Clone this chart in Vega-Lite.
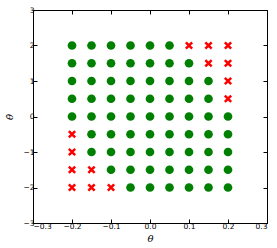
{
  "$schema": "https://vega.github.io/schema/vega-lite/v6.json",
  "width": 234,
  "height": 213,
  "autosize": "none",
  "padding": {"left": 33, "top": 10, "right": 10, "bottom": 25},
  "config": {
    "view": {"stroke": "#000", "strokeWidth": 1},
    "axis": {"grid": false, "domain": false, "tickColor": "#000", "tickSize": -4, "labelFont": "DejaVu Sans", "labelFontSize": 7.5, "labelColor": "#000", "titleFont": "DejaVu Serif", "titleFontSize": 10, "titleFontWeight": "normal", "titleColor": "#000"}
  },
  "data": {"values": [
    {"x": -0.2, "y": 2, "s": "ok"}, {"x": -0.15, "y": 2, "s": "ok"}, {"x": -0.1, "y": 2, "s": "ok"}, {"x": -0.05, "y": 2, "s": "ok"}, {"x": 0, "y": 2, "s": "ok"}, {"x": 0.05, "y": 2, "s": "ok"}, {"x": 0.1, "y": 2, "s": "fail"}, {"x": 0.15, "y": 2, "s": "fail"}, {"x": 0.2, "y": 2, "s": "fail"},
    {"x": -0.2, "y": 1.5, "s": "ok"}, {"x": -0.15, "y": 1.5, "s": "ok"}, {"x": -0.1, "y": 1.5, "s": "ok"}, {"x": -0.05, "y": 1.5, "s": "ok"}, {"x": 0, "y": 1.5, "s": "ok"}, {"x": 0.05, "y": 1.5, "s": "ok"}, {"x": 0.1, "y": 1.5, "s": "ok"}, {"x": 0.15, "y": 1.5, "s": "fail"}, {"x": 0.2, "y": 1.5, "s": "fail"},
    {"x": -0.2, "y": 1, "s": "ok"}, {"x": -0.15, "y": 1, "s": "ok"}, {"x": -0.1, "y": 1, "s": "ok"}, {"x": -0.05, "y": 1, "s": "ok"}, {"x": 0, "y": 1, "s": "ok"}, {"x": 0.05, "y": 1, "s": "ok"}, {"x": 0.1, "y": 1, "s": "ok"}, {"x": 0.15, "y": 1, "s": "ok"}, {"x": 0.2, "y": 1, "s": "fail"},
    {"x": -0.2, "y": 0.5, "s": "ok"}, {"x": -0.15, "y": 0.5, "s": "ok"}, {"x": -0.1, "y": 0.5, "s": "ok"}, {"x": -0.05, "y": 0.5, "s": "ok"}, {"x": 0, "y": 0.5, "s": "ok"}, {"x": 0.05, "y": 0.5, "s": "ok"}, {"x": 0.1, "y": 0.5, "s": "ok"}, {"x": 0.15, "y": 0.5, "s": "ok"}, {"x": 0.2, "y": 0.5, "s": "fail"},
    {"x": -0.2, "y": 0, "s": "ok"}, {"x": -0.15, "y": 0, "s": "ok"}, {"x": -0.1, "y": 0, "s": "ok"}, {"x": -0.05, "y": 0, "s": "ok"}, {"x": 0, "y": 0, "s": "ok"}, {"x": 0.05, "y": 0, "s": "ok"}, {"x": 0.1, "y": 0, "s": "ok"}, {"x": 0.15, "y": 0, "s": "ok"}, {"x": 0.2, "y": 0, "s": "ok"},
    {"x": -0.2, "y": -0.5, "s": "fail"}, {"x": -0.15, "y": -0.5, "s": "ok"}, {"x": -0.1, "y": -0.5, "s": "ok"}, {"x": -0.05, "y": -0.5, "s": "ok"}, {"x": 0, "y": -0.5, "s": "ok"}, {"x": 0.05, "y": -0.5, "s": "ok"}, {"x": 0.1, "y": -0.5, "s": "ok"}, {"x": 0.15, "y": -0.5, "s": "ok"}, {"x": 0.2, "y": -0.5, "s": "ok"},
    {"x": -0.2, "y": -1, "s": "fail"}, {"x": -0.15, "y": -1, "s": "ok"}, {"x": -0.1, "y": -1, "s": "ok"}, {"x": -0.05, "y": -1, "s": "ok"}, {"x": 0, "y": -1, "s": "ok"}, {"x": 0.05, "y": -1, "s": "ok"}, {"x": 0.1, "y": -1, "s": "ok"}, {"x": 0.15, "y": -1, "s": "ok"}, {"x": 0.2, "y": -1, "s": "ok"},
    {"x": -0.2, "y": -1.5, "s": "fail"}, {"x": -0.15, "y": -1.5, "s": "fail"}, {"x": -0.1, "y": -1.5, "s": "ok"}, {"x": -0.05, "y": -1.5, "s": "ok"}, {"x": 0, "y": -1.5, "s": "ok"}, {"x": 0.05, "y": -1.5, "s": "ok"}, {"x": 0.1, "y": -1.5, "s": "ok"}, {"x": 0.15, "y": -1.5, "s": "ok"}, {"x": 0.2, "y": -1.5, "s": "ok"},
    {"x": -0.2, "y": -2, "s": "fail"}, {"x": -0.15, "y": -2, "s": "fail"}, {"x": -0.1, "y": -2, "s": "fail"}, {"x": -0.05, "y": -2, "s": "ok"}, {"x": 0, "y": -2, "s": "ok"}, {"x": 0.05, "y": -2, "s": "ok"}, {"x": 0.1, "y": -2, "s": "ok"}, {"x": 0.15, "y": -2, "s": "ok"}, {"x": 0.2, "y": -2, "s": "ok"}
  ]},
  "layer": [
    {
      "transform": [{"filter": "datum.s === 'ok'"}],
      "mark": {"type": "point", "shape": "circle", "filled": true, "color": "#008000", "opacity": 1, "size": 75},
      "encoding": {
        "x": {"field": "x", "type": "quantitative", "scale": {"domain": [-0.3, 0.3], "nice": false, "zero": false}, "axis": {"orient": "bottom", "values": [-0.3, -0.2, -0.1, 0, 0.1, 0.2, 0.3], "labelExpr": "replace(format(datum.value, '.1f'), '-', '\u2212')", "title": "θ", "titleFontStyle": "italic", "titlePadding": 4, "labelPadding": 3}},
        "y": {"field": "y", "type": "quantitative", "scale": {"domain": [-3, 3], "nice": false, "zero": false}, "axis": {"orient": "left", "values": [-3, -2, -1, 0, 1, 2, 3], "labelExpr": "replace(format(datum.value, 'd'), '-', '\u2212')", "title": "θ̇", "titleFontStyle": "italic", "titlePadding": 8, "labelPadding": 3}}
      }
    },
    {
      "transform": [{"filter": "datum.s === 'fail'"}],
      "mark": {"type": "point", "shape": "M-1,-1L1,1M-1,1L1,-1", "filled": false, "stroke": "#ff0000", "strokeWidth": 2.5, "opacity": 1, "size": 40},
      "encoding": {
        "x": {"field": "x", "type": "quantitative", "axis": {"orient": "top", "values": [-0.3, -0.2, -0.1, 0, 0.1, 0.2, 0.3], "labels": false, "title": null}},
        "y": {"field": "y", "type": "quantitative", "axis": {"orient": "right", "values": [-3, -2, -1, 0, 1, 2, 3], "labels": false, "title": null}}
      }
    }
  ],
  "resolve": {"axis": {"x": "independent", "y": "independent"}}
}
